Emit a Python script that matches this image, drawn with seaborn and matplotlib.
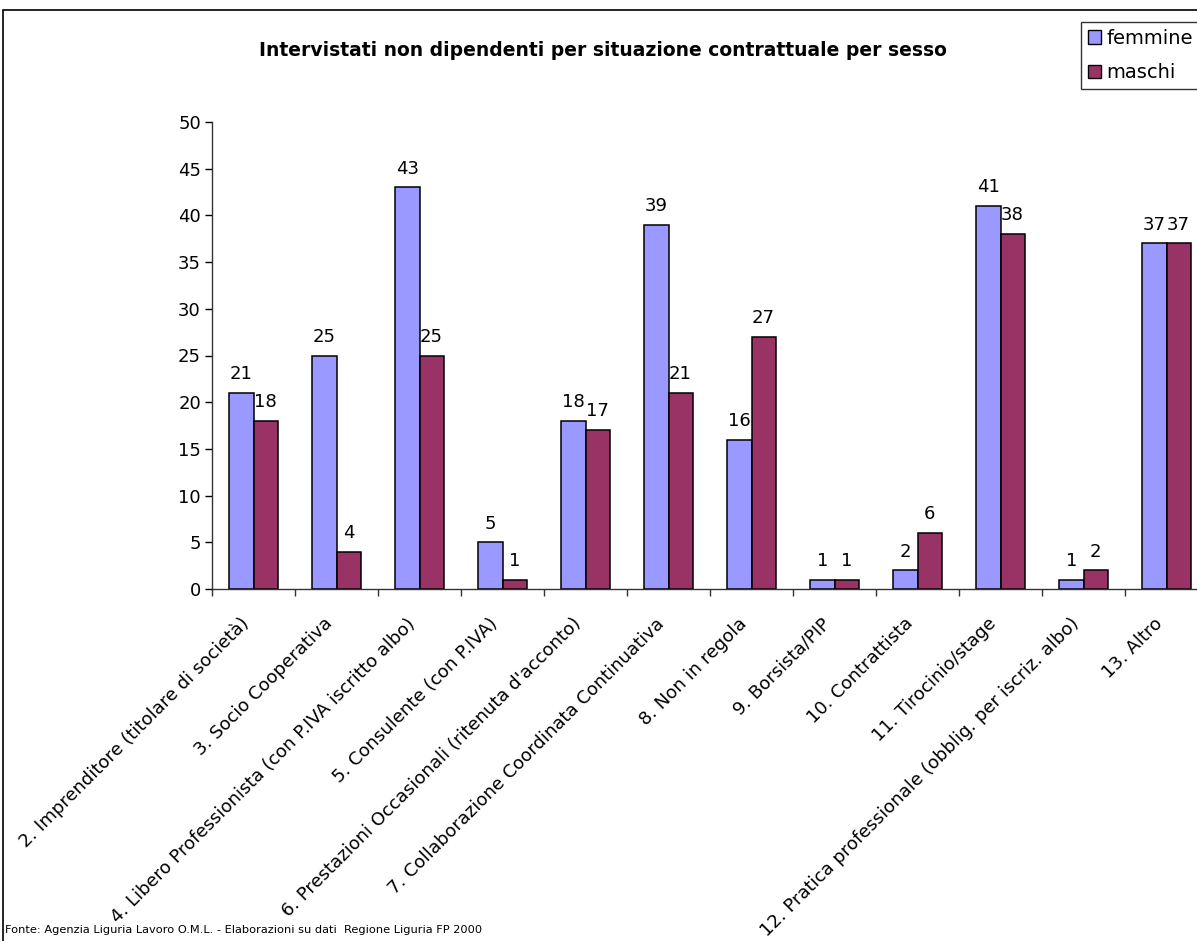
import matplotlib
matplotlib.use("Agg")
import matplotlib.pyplot as plt
import matplotlib.transforms as mtransforms
import seaborn as sns
import pandas as pd
import numpy as np
from matplotlib.patches import Patch, Rectangle

categories = [
    "2. Imprenditore (titolare di società)",
    "3. Socio Cooperativa",
    "4. Libero Professionista (con P.IVA iscritto albo)",
    "5. Consulente (con P.IVA)",
    "6. Prestazioni Occasionali (ritenuta d'acconto)",
    "7. Collaborazione Coordinata Continuativa",
    "8. Non in regola",
    "9. Borsista/PIP",
    "10. Contrattista",
    "11. Tirocinio/stage",
    "12. Pratica professionale (obblig. per iscriz. albo)",
    "13. Altro",
]
femmine = [21, 25, 43, 5, 18, 39, 16, 1, 2, 41, 1, 37]
maschi = [18, 4, 25, 1, 17, 21, 27, 1, 6, 38, 2, 37]
series_names = ["femmine", "maschi"]
colors = ["#9999FF", "#993366"]

df = pd.DataFrame({
    "categoria": categories * 2,
    "sesso": ["femmine"] * len(categories) + ["maschi"] * len(categories),
    "valore": femmine + maschi,
})

sns.set_style("white")
plt.rcParams["font.family"] = ["DejaVu Sans"]
plt.rcParams["text.color"] = "black"
plt.rcParams["xtick.color"] = "black"
plt.rcParams["ytick.color"] = "black"
plt.rcParams["axes.labelcolor"] = "black"

FS = 13
W, H = 1197, 941
fig = plt.figure(figsize=(W / 100, H / 100), dpi=100)
ax = fig.add_axes([212 / W, 1 - 589 / H, 996 / W, (589 - 122) / H])

sns.barplot(data=df, x="categoria", y="valore", hue="sesso", order=categories,
            hue_order=series_names, palette=colors, width=0.58, dodge=True,
            edgecolor="black", linewidth=1.1, saturation=1, ax=ax, legend=False)

for cont in ax.containers:
    ax.bar_label(cont, padding=7, fontsize=FS, color="black")

ax.set_ylim(0, 50)
ax.set_xlim(-0.5, len(categories) - 0.5)
ax.set_yticks(np.arange(0, 51, 5))
ax.tick_params(axis="y", labelsize=FS, length=5, width=1, direction="out", left=True, pad=3,
               colors="black")
ax.set_xticks(range(len(categories)))
ax.set_xticklabels(categories, rotation=45, ha="right", va="center",
                   rotation_mode="anchor", fontsize=FS)
ax.tick_params(axis="x", length=0, pad=0, colors="black")
ax.set_xticks(np.arange(-0.5, len(categories), 1), minor=True)
ax.tick_params(axis="x", which="minor", length=5, width=1, direction="out", bottom=True,
               colors="#333333")
ax.set_xlabel("")
ax.set_ylabel("")
for s in ["top", "right"]:
    ax.spines[s].set_visible(False)
for s in ["left", "bottom"]:
    ax.spines[s].set_color("#333333")
    ax.spines[s].set_linewidth(1)

offset = mtransforms.ScaledTranslation(-7 / 100, -32 / 100, fig.dpi_scale_trans)
for lab in ax.get_xticklabels():
    lab.set_transform(lab.get_transform() + offset)

fig.text(603 / W, 1 - 50 / H, "Intervistati non dipendenti per situazione contrattuale per sesso",
         ha="center", va="center", fontsize=13.5, fontweight="bold", color="black")

fig.text(5 / W, 1 - 930 / H,
         "Fonte: Agenzia Liguria Lavoro O.M.L. - Elaborazioni su dati  Regione Liguria FP 2000",
         ha="left", va="center", fontsize=8.2, color="black")

handles = [Patch(facecolor=c, edgecolor="black", linewidth=1) for c in colors]
leg = fig.legend(handles, series_names, loc="upper left",
                 bbox_to_anchor=(1081 / W, 1 - 22 / H), frameon=True, fancybox=False,
                 fontsize=14, handlelength=0.7, handleheight=0.7, handletextpad=0.25,
                 borderpad=0.35, labelspacing=0.8, borderaxespad=0)
leg.get_frame().set_edgecolor("black")
leg.get_frame().set_linewidth(1)

fig.patches.append(Rectangle((3 / W, -0.1), 1.2, 1.1 - 10 / H, transform=fig.transFigure,
                             fill=False, edgecolor="black", linewidth=1.2))

fig.savefig("out.png", dpi=100)
